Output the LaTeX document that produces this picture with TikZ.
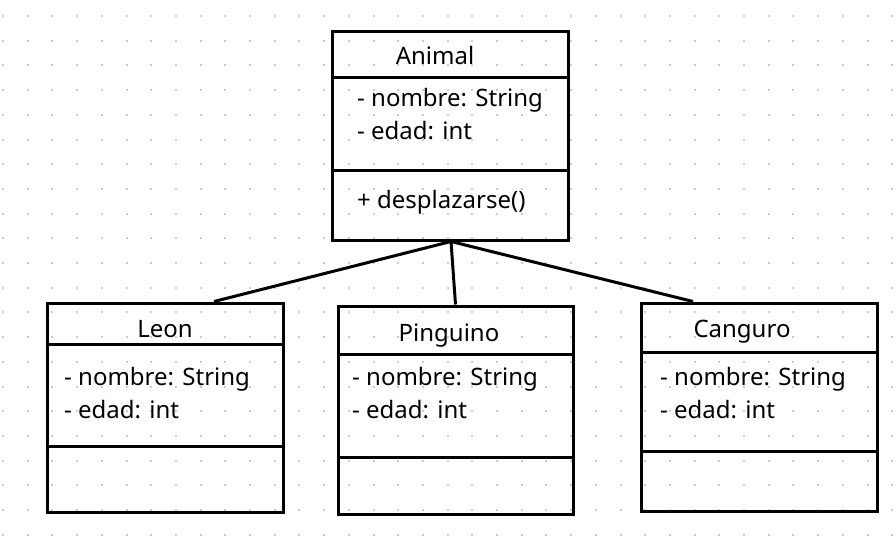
\documentclass[tikz,border=0pt]{standalone}
\usepackage{fontspec}
\setmainfont{Noto Sans}
\usepackage{tikz}
\usetikzlibrary{calc,positioning}
\definecolor{dotGray}{RGB}{200,204,212}

\begin{document}
\begin{tikzpicture}
      [x=1pt, y=-1pt, font=\fontsize{24}{28}\selectfont,
      % STYLES
      % The classBox style is used to draw the frame of each class
      classBox/.style={rectangle, draw, line width=3pt, inner sep=0pt, minimum width=236pt, minimum height=208pt},
      % The className style is used to write the name of each class
      className/.style={anchor=base, inner sep=0pt},
      % The member style is used for the attributes and methods
      member/.style={anchor=base west, inner sep=0pt},
      % The divider style separates the compartments of a class
      divider/.style={line width=3pt},
      % The link style joins the subclasses to the superclass
      link/.style={line width=3pt},
      gridDot/.style={fill=dotGray}]

      \useasboundingbox[fill=white] (0,0) rectangle (896,535);

      % Dotted grid
      \foreach \i in {0,...,36}
        \foreach \j in {0,...,21}
          \fill[gridDot] ({3+24.7*\i-1},{16+24.7*\j-1}) rectangle ++(2,2);

      % Draw classes
      \node [classBox] (animal) at (450,136) {};
      \node [classBox, minimum height=209pt] (leon) at (165,407.5) {};
      \node [classBox, minimum width=235pt] (pinguino) at (455.5,410) {};
      \node [classBox] (canguro) at (759,407) {};

      %%%%%%%%%%%%%%%
      % Compartments
      \draw[divider] (animal.west |- 0,77) -- (animal.east |- 0,77);
      \draw[divider] (animal.west |- 0,170) -- (animal.east |- 0,170);
      \draw[divider] ([xshift=3pt]leon.west |- 0,344) -- ([xshift=-3pt]leon.east |- 0,344);
      \draw[divider] (leon.west |- 0,446) -- (leon.east |- 0,446);
      \draw[divider] (pinguino.west |- 0,354) -- (pinguino.east |- 0,354);
      \draw[divider] (pinguino.west |- 0,457) -- (pinguino.east |- 0,457);
      \draw[divider] (canguro.west |- 0,352) -- (canguro.east |- 0,352);
      \draw[divider] (canguro.west |- 0,451) -- (canguro.east |- 0,451);

      %%%%%%%%%%%%%%%
      % Names and members
      \node [className] (animal-name) at (435,64) {Animal};
      \node [member] (animal-nombre) at (357,106) {- nombre: String};
      \node [member] (animal-edad) at (357,139) {- edad: int};
      \node [member] (animal-desplazarse) at (357,208) {+ desplazarse()};

      \node [className] (leon-name) at (165,337) {Leon};
      \node [member] (leon-nombre) at (64,385) {- nombre: String};
      \node [member] (leon-edad) at (64,418) {- edad: int};

      \node [className] (pinguino-name) at (449,341) {Pinguino};
      \node [member] (pinguino-nombre) at (352,385) {- nombre: String};
      \node [member] (pinguino-edad) at (352,418) {- edad: int};

      \node [className] (canguro-name) at (742,337) {Canguro};
      \node [member] (canguro-nombre) at (660,385) {- nombre: String};
      \node [member] (canguro-edad) at (660,418) {- edad: int};

      %%%%%%%%%%%%%%%%

      % Draw the links between classes
      \draw[link] ([xshift=1pt]animal.south) -- ([xshift=49pt]leon.north);
      \draw[link] ([xshift=1pt]animal.south) -- (pinguino.north);
      \draw[link] ([xshift=1pt]animal.south) -- ([xshift=-66pt]canguro.north);

    \end{tikzpicture}
\end{document}
